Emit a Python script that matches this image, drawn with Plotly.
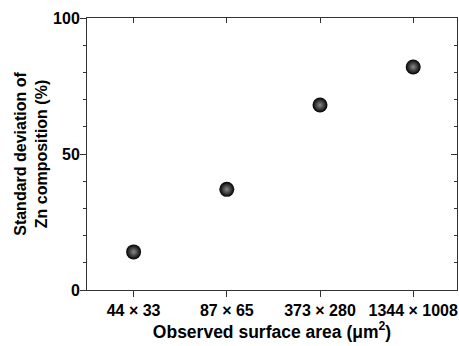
import plotly.graph_objects as go

categories = ["44 × 33", "87 × 65", "373 × 280", "1344 × 1008"]
std_dev = [14, 37, 68, 82]
y_tick_vals = [0, 50, 100]
y_tick_text = ["0", "50", "100"]

FONT = "Liberation Sans, Arial, sans-serif"
AX = "#333333"

fig = go.Figure()
fig.add_trace(go.Scatter(
    x=categories, y=std_dev, mode="markers",
    marker=dict(size=15, color="#000000", line=dict(width=0),
                gradient=dict(type="radial", color="#8a8a8a")),
    showlegend=False, cliponaxis=False,
))
# invisible trace to activate mirrored (top/right) axes
fig.add_trace(go.Scatter(x=categories, y=std_dev, xaxis="x2", yaxis="y2",
                         mode="markers", marker=dict(opacity=0), showlegend=False,
                         hoverinfo="skip"))

xr = [-0.5, 3.47]
yr = [0, 100]
fig.update_layout(
    width=459, height=346,
    margin=dict(l=87, r=2, t=18, b=56),
    paper_bgcolor="white", plot_bgcolor="white",
    font=dict(family=FONT, size=16, color="#000000"),
    xaxis=dict(type="category", range=xr, showline=True, linecolor=AX, linewidth=1,
               automargin=False,
               ticks="outside", ticklen=6, tickcolor=AX, tickwidth=1,
               tickvals=categories, ticktext=["<b>%s</b>" % c for c in categories],
               showgrid=False, zeroline=False,
               tickfont=dict(family=FONT, size=16, color="#000"),
               title=dict(text="<b>Observed surface area (μm<sup>2</sup>)</b>",
                          font=dict(family=FONT, size=17.5), standoff=5)),
    yaxis=dict(range=yr, showline=True, linecolor=AX, linewidth=1,
               automargin=False,
               ticks="outside", ticklen=6, tickcolor=AX, tickwidth=1,
               tickvals=y_tick_vals, ticktext=["<b>%s</b>" % t for t in y_tick_text],
               ticklabelstandoff=-3,
               minor=dict(dtick=10, ticks="outside", ticklen=3, tickcolor=AX, showgrid=False),
               showgrid=False, zeroline=False,
               tickfont=dict(family=FONT, size=16, color="#000"),
               title=dict(text="<b>Standard deviation of<br>Zn composition (%)</b>",
                          font=dict(family=FONT, size=16), standoff=1)),
    xaxis2=dict(type="category", range=xr, overlaying="x", side="top", showline=True,
                automargin=False,
                linecolor=AX, linewidth=1, ticks="inside", ticklen=5, tickcolor=AX,
                tickvals=categories, showticklabels=False, showgrid=False, zeroline=False),
    yaxis2=dict(range=yr, overlaying="y", side="right", showline=True,
                automargin=False,
                linecolor=AX, linewidth=1, ticks="inside", ticklen=6, tickcolor=AX,
                tickvals=y_tick_vals, showticklabels=False,
                minor=dict(dtick=10, ticks="inside", ticklen=3, tickcolor=AX, showgrid=False),
                showgrid=False, zeroline=False),
)
fig.write_html("out.html", config={"displayModeBar": False},
               post_script="document.body.style.margin='0';document.body.style.overflow='hidden';")
